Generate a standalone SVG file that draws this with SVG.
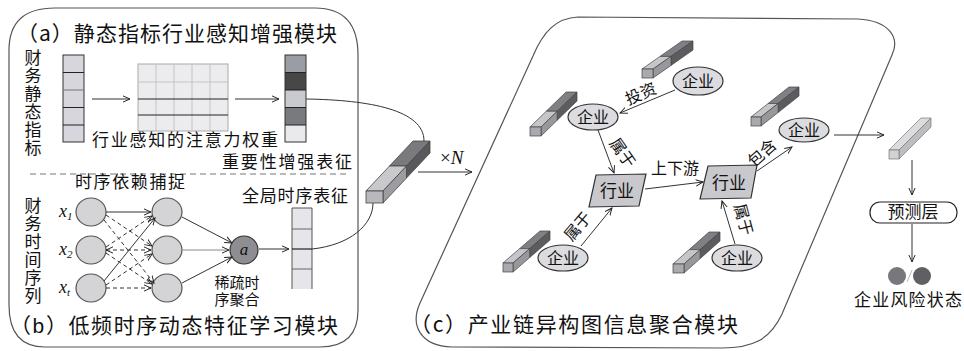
<svg xmlns="http://www.w3.org/2000/svg" width="964" height="351" viewBox="0 0 964 351">
<defs>
<marker id="ah" viewBox="0 0 10 10" refX="9" refY="5" markerWidth="8" markerHeight="8" orient="auto-start-reverse" markerUnits="userSpaceOnUse"><path d="M0,1 L9,5 L0,9" fill="none" stroke="#222" stroke-width="1.2"/></marker>
<style>
.t{font-family:"Noto Sans CJK SC","Liberation Serif",sans-serif;fill:#111}
.tl{font-family:"Liberation Sans","Noto Sans CJK SC",sans-serif;fill:#111}
.s{font-family:"Liberation Serif",serif;font-style:italic;fill:#111}
.v{writing-mode:vertical-rl;letter-spacing:1px}
.ln{stroke:#333;stroke-width:1;fill:none}
.ar{marker-end:url(#ah)}
.dash{stroke-dasharray:4 3}
.frame{fill:none;stroke:#555;stroke-width:1.2}
.ell{fill:#dcdce0;stroke:#333;stroke-width:1.2}
.ind{fill:#c9c9cd;stroke:#333;stroke-width:1.2}
.node{fill:#d4d4d7;stroke:#555;stroke-width:1.2}
.lf{fill:#aaaaae;stroke:#444;stroke-width:0.7}
.lt{fill:#c6c6ca;stroke:#444;stroke-width:0.7}
.lr{fill:#98989c;stroke:#444;stroke-width:0.7}
.dt{fill:#808084;stroke:#444;stroke-width:0.7}
.dr{fill:#5c5c60;stroke:#444;stroke-width:0.7}
</style>
</defs>

<g id="panel-a-b">
<path class="frame" d="M55,8 L315,8 Q358,8 358,55 L358,310 Q358,347 320,347 L45,347 Q9,347 9,305 L9,50 Q9,8 55,8 Z"/>
<line x1="30" y1="174" x2="346" y2="174" stroke="#777" stroke-width="1" stroke-dasharray="6 4"/>
<text class="t" x="17" y="41" font-size="21" textLength="320">（a）静态指标行业感知增强模块</text>
<text class="tl" x="10" y="333" font-size="21" textLength="328">（b）低频时序动态特征学习模块</text>
</g>

<g id="static-input">
<text class="t v" x="33" y="49" font-size="17">财务静态指标</text>
<rect x="63" y="55" width="21" height="87" fill="#d6d6dc" stroke="#333"/>
<line x1="63" y1="72.5" x2="84" y2="72.5" stroke="#222"/>
<line x1="63" y1="90" x2="84" y2="90" stroke="#777"/>
<line x1="63" y1="107.5" x2="84" y2="107.5" stroke="#222"/>
<line x1="63" y1="125" x2="84" y2="125" stroke="#222"/>
</g>

<g id="attention-matrix">
<rect x="138" y="64" width="90" height="67" fill="#ececee" stroke="#aaa"/>
<g stroke="#c4c4c6" stroke-width="1"><line x1="156" y1="64" x2="156" y2="131"/><line x1="174" y1="64" x2="174" y2="131"/><line x1="192" y1="64" x2="192" y2="131"/><line x1="210" y1="64" x2="210" y2="131"/><line x1="138" y1="82" x2="228" y2="82"/></g>
<line x1="138" y1="99" x2="228" y2="99" stroke="#222" stroke-width="1.2"/>
<line x1="138" y1="115" x2="228" y2="115" stroke="#222" stroke-width="1.2"/>
<text class="t" x="92" y="146" font-size="17" textLength="186">行业感知的注意力权重</text>
</g>

<g id="importance-vector">
<rect x="285" y="55" width="21" height="17.5" fill="#9b9da5"/>
<rect x="285" y="72.5" width="21" height="17.5" fill="#474747"/>
<rect x="285" y="90" width="21" height="17.5" fill="#c8cad0"/>
<rect x="285" y="107.5" width="21" height="17.5" fill="#797a7e"/>
<rect x="285" y="125" width="21" height="17" fill="#eaeaec"/>
<rect x="285" y="55" width="21" height="87" fill="none" stroke="#333"/>
<g stroke="#222"><line x1="285" y1="72.5" x2="306" y2="72.5"/><line x1="285" y1="90" x2="306" y2="90"/><line x1="285" y1="107.5" x2="306" y2="107.5"/><line x1="285" y1="125" x2="306" y2="125"/></g>
<text class="t" x="222" y="168" font-size="17" textLength="130">重要性增强表征</text>
</g>

<g id="temporal-net">
<text class="t" x="75" y="188" font-size="17" textLength="110">时序依赖捕捉</text>
<text class="t v" x="33" y="197" font-size="17">财务时间序列</text>
<text class="s" x="59" y="217" font-size="18">x<tspan font-size="11" dy="3">1</tspan></text>
<text class="s" x="59" y="255" font-size="18">x<tspan font-size="11" dy="3">2</tspan></text>
<text class="s" x="59" y="293" font-size="18">x<tspan font-size="11" dy="3">t</tspan></text>
<ellipse class="node" cx="91" cy="212" rx="15" ry="14"/>
<ellipse class="node" cx="91" cy="250" rx="15" ry="14"/>
<ellipse class="node" cx="91" cy="288" rx="15" ry="14"/>
<ellipse class="node" cx="167" cy="212" rx="15" ry="14"/>
<ellipse class="node" cx="167" cy="250" rx="15" ry="14"/>
<ellipse class="node" cx="167" cy="288" rx="15" ry="14"/>
</g>

<g id="sparse-agg">
<circle cx="244" cy="250" r="14" fill="#8e8e92" stroke="#333" stroke-width="1.2"/>
<text class="s" x="244" y="255" font-size="17" text-anchor="middle">a</text>
<text class="tl" font-size="15" text-anchor="middle"><tspan x="237" y="288">稀疏时</tspan><tspan x="237" y="305">序聚合</tspan></text>
</g>

<g id="global-vector">
<rect x="292" y="208" width="20" height="81" fill="#e6e6ea" stroke="none"/>
<path d="M292,289 L292,208 L312,208 L312,289" fill="none" stroke="#555"/>
<line x1="292" y1="229" x2="312" y2="229" stroke="#666"/>
<line x1="292" y1="249" x2="312" y2="249" stroke="#222" stroke-width="1.2"/>
<line x1="292" y1="269" x2="312" y2="269" stroke="#666"/>
<text class="t" x="242" y="202" font-size="17" textLength="106">全局时序表征</text>
</g>

<g id="fused-bar">
<polygon fill="#7a7a7e" stroke="#444" stroke-width="0.8" points="389.5,166 406.5,166 430,141 413,141"/>
<polygon fill="#59595d" stroke="#444" stroke-width="0.8" points="406.5,166 430,141 430,153 406.5,178"/>
<polygon fill="#c9c9cd" stroke="#444" stroke-width="0.8" points="366,191 383,191 406.5,166 389.5,166"/>
<polygon fill="#9d9da1" stroke="#444" stroke-width="0.8" points="383,191 406.5,166 406.5,178 383,203"/>
<rect x="366" y="191" width="17" height="12" fill="#b9b9bd" stroke="#444" stroke-width="0.8"/>
<text x="440" y="164" font-size="19" font-family="Liberation Serif, serif" fill="#111">×<tspan font-style="italic">N</tspan></text>
</g>

<g id="panel-c">
<path class="frame" d="M578,17 L858,19 C890,21 900,38 892,55 L782,314 C770,340 752,348 722,348 L452,347 C420,346 410,325 420,303 L533,56 C543,32 556,18 578,17 Z"/>
<text class="t" x="410" y="332" font-size="21" textLength="328">（c）产业链异构图信息聚合模块</text>
</g>

<g id="bar-A">
<polygon class="dt" points="660,56.4 671,56.4 693,41 682,41"/>
<polygon class="dr" points="671,56.4 693,41 693,50 671,65.4"/>
<polygon class="lt" points="642,69 653,69 671,56.4 660,56.4"/>
<polygon class="lr" points="653,69 671,56.4 671,65.4 653,78"/>
<rect class="lf" x="642" y="69" width="11" height="9"/>
</g>
<g id="bar-B">
<polygon class="dt" points="546.2,111.25 557.2,111.25 577,92 566,92"/>
<polygon class="dr" points="557.2,111.25 577,92 577,101 557.2,120.25"/>
<polygon class="lt" points="530,127 541,127 557.2,111.25 546.2,111.25"/>
<polygon class="lr" points="541,127 557.2,111.25 557.2,120.25 541,136"/>
<rect class="lf" x="530" y="127" width="11" height="9"/>
</g>
<g id="bar-C">
<polygon class="dt" points="768.1,103.5 778.1,103.5 799,87 789,87"/>
<polygon class="dr" points="778.1,103.5 799,87 799,96 778.1,112.5"/>
<polygon class="lt" points="751,117 761,117 778.1,103.5 768.1,103.5"/>
<polygon class="lr" points="761,117 778.1,103.5 778.1,112.5 761,126"/>
<rect class="lf" x="751" y="117" width="10" height="9"/>
</g>
<g id="bar-D">
<polygon class="dt" points="519.65,248.6 529.65,248.6 550,231 540,231"/>
<polygon class="dr" points="529.65,248.6 550,231 550,240 529.65,257.6"/>
<polygon class="lt" points="503,263 513,263 529.65,248.6 519.65,248.6"/>
<polygon class="lr" points="513,263 529.65,248.6 529.65,257.6 513,272"/>
<rect class="lf" x="503" y="263" width="10" height="9"/>
</g>
<g id="bar-E">
<polygon class="dt" points="689.2,249.6 700.2,249.6 720,232 709,232"/>
<polygon class="dr" points="700.2,249.6 720,232 720,241 700.2,258.6"/>
<polygon class="lt" points="673,264 684,264 700.2,249.6 689.2,249.6"/>
<polygon class="lr" points="684,264 700.2,249.6 700.2,258.6 684,273"/>
<rect class="lf" x="673" y="264" width="11" height="9"/>
</g>

<g id="ent-A"><ellipse class="ell" cx="698" cy="81" rx="25" ry="14"/><text class="t" x="698" y="87" font-size="16" text-anchor="middle">企业</text></g>
<g id="ent-B"><ellipse class="ell" cx="593" cy="117" rx="25" ry="13"/><text class="t" x="593" y="123" font-size="16" text-anchor="middle">企业</text></g>
<g id="ent-C"><ellipse class="ell" cx="804" cy="130" rx="25" ry="12"/><text class="t" x="804" y="136" font-size="16" text-anchor="middle">企业</text></g>
<g id="ent-D"><ellipse class="ell" cx="563" cy="258" rx="25" ry="13"/><text class="t" x="563" y="264" font-size="16" text-anchor="middle">企业</text></g>
<g id="ent-E"><ellipse class="ell" cx="737" cy="258" rx="25" ry="13"/><text class="t" x="737" y="264" font-size="16" text-anchor="middle">企业</text></g>
<g id="ind-1"><polygon class="ind" points="596,175 646,174 639,206 589,207"/><text class="t" x="617" y="197" font-size="17" text-anchor="middle">行业</text></g>
<g id="ind-2"><polygon class="ind" points="708,166 757,165 751,198 700,199"/><text class="t" x="729" y="189" font-size="17" text-anchor="middle">行业</text></g>

<g id="output">
<polygon fill="#dcdcde" stroke="#777" stroke-width="0.7" points="889,150 899,150 931,118 921,118"/>
<polygon fill="#bdbdc0" stroke="#777" stroke-width="0.7" points="899,150 931,118 931,127 899,159"/>
<rect x="889" y="150" width="10" height="9" fill="#d2d2d4" stroke="#777" stroke-width="0.7"/>
</g>
<g id="predict-layer">
<rect x="870" y="202" width="87" height="21" rx="10" fill="#fff" stroke="#222" stroke-width="1.2"/>
<text class="t" x="913" y="218" font-size="17" text-anchor="middle">预测层</text>
</g>
<g id="risk-state">
<circle cx="897" cy="276" r="9" fill="#77777c"/>
<circle cx="922" cy="276" r="9" fill="#5f5f64"/>
<line x1="907" y1="282" x2="912" y2="270" stroke="#bbb" stroke-width="1"/>
<text class="t" x="854" y="306" font-size="17" textLength="108">企业风险状态</text>
</g>

<g id="connectors">
<path class="ln ar" d="M92,99 L130,99"/>
<path class="ln ar" d="M235,99 L279,99"/>
<path class="ln" d="M306,99 C370,100 424,110 424,141"/>
<path class="ln" d="M373,203 C373,225 350,245 312,249"/>
<path class="ln ar" d="M418,172 L472,172"/>
<path class="ln ar" d="M106,212 L151,212"/>
<path class="ln ar dash" d="M106,215 L152,246"/>
<path class="ln ar dash" d="M104,220 L154,283"/>
<path class="ln ar dash" d="M106,247 L152,216"/>
<path class="ln ar dash" d="M106,250 L151,250" marker-start="url(#ah)"/>
<path class="ln ar dash" d="M106,253 L152,284"/>
<path class="ln ar" d="M104,281 L155,218"/>
<path class="ln ar dash" d="M106,285 L152,254"/>
<path class="ln ar dash" d="M106,288 L151,288"/>
<path class="ln ar" d="M182,217 L232,243"/>
<path class="ar" d="M183,250 L229,250" stroke="#888" stroke-width="1" fill="none"/>
<path class="ln ar" d="M182,283 L232,257"/>
<path class="ln ar" d="M259,249 L289,249"/>
<path class="ln ar" d="M675,90 L620,113"/>
<path class="ln ar" d="M598,130 L614,173"/>
<path class="ln ar" d="M581,246 L612,208"/>
<path class="ln ar" d="M735,244 L722,201"/>
<path class="ln ar" d="M645,189 L703,182"/>
<path class="ln ar" d="M757,171 L792,147"/>
<path class="ln ar" d="M834,135 L884,135"/>
<path class="ln ar" d="M912,160 L912,195"/>
<path class="ln ar" d="M912,224 L912,262"/>
<text class="t" font-size="16" text-anchor="middle" transform="translate(643,99) rotate(-23)">投资</text>
<text class="t" font-size="16" text-anchor="middle" transform="translate(618,156) rotate(55)">属于</text>
<text class="t" font-size="16" text-anchor="middle" transform="translate(582,230) rotate(-50)">属于</text>
<text class="t" font-size="16" text-anchor="middle" transform="translate(738,221) rotate(75)">属于</text>
<text class="t" font-size="16" text-anchor="middle" transform="translate(766,157) rotate(-42)">包含</text>
<text class="t" x="675" y="174" font-size="16" text-anchor="middle">上下游</text>
</g>
</svg>
